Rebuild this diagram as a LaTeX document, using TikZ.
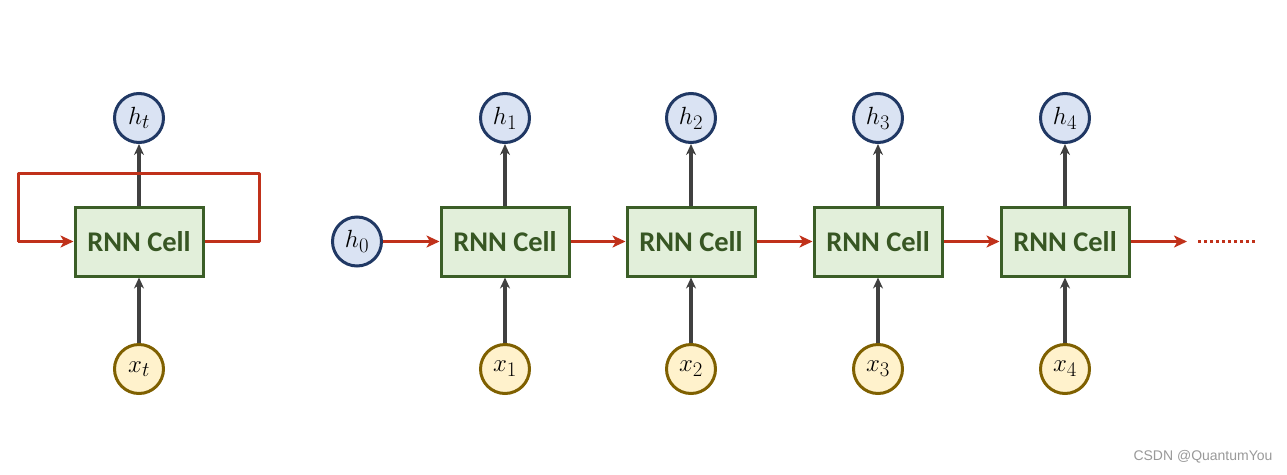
\documentclass[tikz,border=0pt]{standalone}
\usepackage{fontspec}
\newfontfamily\carlito{Carlito}
\newfontfamily\wmfont{Liberation Sans}
\usetikzlibrary{arrows.meta}
\definecolor{cellfill}{HTML}{E2EFDA}
\definecolor{celldraw}{HTML}{3B5E27}
\definecolor{celltext}{HTML}{375623}
\definecolor{hfill}{HTML}{DAE3F3}
\definecolor{hdraw}{HTML}{203864}
\definecolor{xfill}{HTML}{FFF2CC}
\definecolor{xdraw}{HTML}{7F6000}
\definecolor{redline}{HTML}{C0311A}
\definecolor{grayline}{HTML}{404040}
\tikzset{
  cellbox/.style={draw=celldraw, fill=cellfill, line width=3pt, minimum width=128pt, minimum height=69pt, inner sep=0pt,
    font=\carlito\bfseries\fontsize{28.5}{30}\selectfont, text=celltext},
  hnode/.style={circle, draw=hdraw, fill=hfill, line width=3pt, minimum size=49pt, inner sep=0pt, font=\fontsize{29}{31}\selectfont},
  xnode/.style={circle, draw=xdraw, fill=xfill, line width=3pt, minimum size=49pt, inner sep=0pt, font=\fontsize{29}{31}\selectfont},
  grayarrow/.style={draw=grayline, line width=3.2pt, -{Stealth[length=11pt,width=10pt]}},
  redarrow/.style={draw=redline, line width=3pt, -{Stealth[length=13pt,width=12pt,inset=3.5pt]}},
  redline/.style={draw=redline, line width=3pt},
}
\begin{document}
\begin{tikzpicture}[x=1pt,y=-1pt]
\useasboundingbox (0,0) rectangle (1287,474);
% left folded cell
\node[cellbox] (c) at (139,241.5) {RNN Cell};
\node[hnode] (ht) at (139,118) {$h_t$};
\node[xnode] (xt) at (139,369) {$x_t$};
\draw[grayarrow] (c.north) -- (ht.south);
\draw[grayarrow] (xt.north) -- (c.south);
\coordinate (lr) at (259,241.5);
\coordinate (tr) at (259,173);
\coordinate (tl) at (18,173);
\coordinate (ll) at (18,241.5);
\draw[redline, line join=round] (c.east) -- (lr) -- (tr) -- (tl) -- (ll);
\draw[redarrow] (ll) -- (c.west);
% unrolled
\node[hnode] (h0) at (357,241.5) {$h_0$};
\foreach \i/\xx in {1/505,2/691,3/878,4/1065}{
  \node[cellbox] (c\i) at (\xx,241.5) {RNN Cell};
  \node[hnode] (h\i) at (\xx,118) {$h_{\i}$};
  \node[xnode] (x\i) at (\xx,369) {$x_{\i}$};
  \draw[grayarrow] (c\i.north) -- (h\i.south);
  \draw[grayarrow] (x\i.north) -- (c\i.south);
}
\draw[redarrow] (h0.east) -- (c1.west);
\draw[redarrow] (c1.east) -- (c2.west);
\draw[redarrow] (c2.east) -- (c3.west);
\draw[redarrow] (c3.east) -- (c4.west);
\coordinate (endarrow) at (1187,241.5);
\draw[redarrow] (c4.east) -- (endarrow);
\coordinate (d1) at (1198,241.5);
\coordinate (d2) at (1255,241.5);
\draw[redline, line width=3pt, dash pattern=on 3pt off 3pt] (d1) -- (d2);
\node[font=\wmfont\fontsize{14}{16}\selectfont, text=black!40, anchor=east] (wm) at (1276,457) {CSDN @QuantumYou};
\end{tikzpicture}
\end{document}
